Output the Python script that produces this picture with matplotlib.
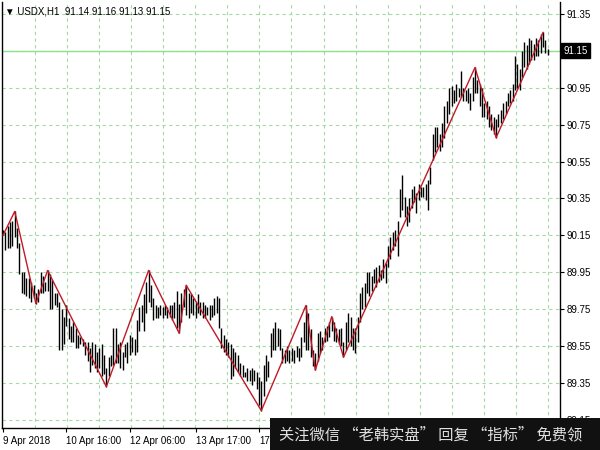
import numpy as np
import matplotlib.pyplot as plt
import matplotlib.transforms as mtransforms
from matplotlib.patches import Rectangle

plt.rcParams['font.family'] = ['Liberation Sans', 'DejaVu Sans']

# USDX H1 bars, high / low (left to right)
highs = [90.18, 90.17, 90.20, 90.22, 90.23, 90.28, 90.19, 90.11, 89.95, 89.95,
         89.92, 89.92, 89.90, 89.88, 89.84, 89.86, 89.95, 89.93, 89.90, 89.96,
         89.94, 89.91, 89.84, 89.84, 89.79, 89.75, 89.71, 89.77, 89.70, 89.66,
         89.68, 89.65, 89.61, 89.60, 89.59, 89.57, 89.57, 89.54, 89.57, 89.56,
         89.52, 89.54, 89.56, 89.50, 89.43, 89.49, 89.50, 89.65, 89.65, 89.56,
         89.57, 89.52, 89.56, 89.57, 89.61, 89.60,
         89.59, 89.69, 89.76, 89.77, 89.83, 89.90, 89.96, 89.88, 89.81, 89.77,
         89.76, 89.77, 89.76, 89.77, 89.76, 89.77, 89.77, 89.79, 89.85, 89.78,
         89.84, 89.86, 89.88, 89.84, 89.83, 89.81, 89.79, 89.83, 89.79, 89.79,
         89.77, 89.76, 89.77, 89.77, 89.81, 89.82, 89.81, 89.65, 89.61, 89.59,
         89.57, 89.56, 89.54, 89.52, 89.50, 89.46, 89.45, 89.41, 89.43, 89.42,
         89.43, 89.42, 89.41, 89.38, 89.36, 89.45, 89.50,
         89.47, 89.62, 89.65, 89.68, 89.65, 89.64, 89.54, 89.53, 89.55, 89.53,
         89.54, 89.53, 89.55, 89.54, 89.60, 89.68, 89.77, 89.73, 89.64, 89.53,
         89.51, 89.62, 89.63, 89.60, 89.65, 89.66, 89.68, 89.71, 89.68, 89.65,
         89.64, 89.65, 89.57, 89.68, 89.73, 89.71, 89.65, 89.65, 89.71, 89.84,
         89.87, 89.89, 89.95, 89.95, 89.93, 89.97, 89.98, 89.99, 89.96, 90.02,
         90.00, 90.09, 90.14, 90.17, 90.18, 90.23, 90.40, 90.48, 90.36, 90.31,
         90.35, 90.40, 90.42,
         90.38, 90.43, 90.41, 90.41, 90.43, 90.45, 90.52, 90.70, 90.74, 90.74,
         90.70, 90.76, 90.85, 90.88, 90.95, 90.96, 90.94, 90.97, 90.95, 91.04,
         90.95, 90.94, 90.95, 90.92, 91.01, 91.06, 90.99, 90.97, 90.95, 90.87,
         90.88, 90.85, 90.81, 90.79, 90.78, 90.81, 90.83, 90.87, 90.88, 90.92,
         90.94, 90.97, 91.12, 91.08, 91.05, 91.15, 91.20, 91.18, 91.22, 91.21,
         91.19, 91.22, 91.21, 91.24, 91.25, 91.21, 91.16]
lows = [90.15, 90.07, 90.08, 90.08, 90.09, 90.14, 90.08, 89.94, 89.84, 89.83,
        89.82, 89.81, 89.79, 89.81, 89.78, 89.79, 89.84, 89.84, 89.85, 89.85,
        89.75, 89.75, 89.77, 89.76, 89.53, 89.53, 89.56, 89.66, 89.59, 89.57,
        89.57, 89.54, 89.54, 89.56, 89.55, 89.50, 89.47, 89.41, 89.45, 89.43,
        89.41, 89.43, 89.39, 89.40, 89.33, 89.39, 89.44, 89.45, 89.46, 89.46,
        89.43, 89.42, 89.49, 89.46, 89.50, 89.52,
        89.50, 89.52, 89.63, 89.68, 89.63, 89.73, 89.79, 89.76, 89.69, 89.70,
        89.70, 89.72, 89.70, 89.72, 89.70, 89.71, 89.69, 89.70, 89.65, 89.62,
        89.68, 89.76, 89.72, 89.70, 89.73, 89.72, 89.70, 89.73, 89.72, 89.70,
        89.70, 89.72, 89.69, 89.71, 89.72, 89.73, 89.65, 89.54, 89.52, 89.50,
        89.49, 89.37, 89.39, 89.43, 89.41, 89.39, 89.38, 89.38, 89.36, 89.36,
        89.34, 89.36, 89.32, 89.23, 89.20, 89.28, 89.36,
        89.38, 89.49, 89.53, 89.53, 89.55, 89.53, 89.46, 89.46, 89.47, 89.46,
        89.47, 89.46, 89.49, 89.47, 89.49, 89.57, 89.53, 89.53, 89.49, 89.44,
        89.42, 89.47, 89.51, 89.53, 89.57, 89.58, 89.60, 89.63, 89.58, 89.57,
        89.56, 89.55, 89.49, 89.53, 89.57, 89.55, 89.53, 89.51, 89.57, 89.68,
        89.75, 89.76, 89.84, 89.82, 89.85, 89.89, 89.87, 89.90, 89.91, 89.92,
        89.89, 89.98, 90.02, 90.07, 90.09, 90.04, 90.25, 90.29, 90.25, 90.20,
        90.22, 90.30, 90.33,
        90.27, 90.34, 90.36, 90.36, 90.34, 90.29, 90.43, 90.56, 90.60, 90.63,
        90.61, 90.63, 90.68, 90.76, 90.81, 90.85, 90.87, 90.88, 90.90, 90.90,
        90.88, 90.88, 90.87, 90.83, 90.88, 90.92, 90.92, 90.85, 90.79, 90.79,
        90.78, 90.74, 90.72, 90.70, 90.68, 90.74, 90.76, 90.78, 90.81, 90.85,
        90.87, 90.88, 90.94, 90.95, 90.94, 91.01, 91.06, 91.05, 91.08, 91.10,
        91.10, 91.12, 91.12, 91.14, 91.17, 91.14, 91.13]

last_ohlc = [91.14, 91.16, 91.13, 91.15]
symbol = 'USDX,H1'

# zigzag turning points (bar index), starting on a low
zz_idx = [0, 5, 14, 19, 44, 62, 75, 78, 110, 129, 133, 140, 145, 201, 210, 230]

y_ticks = [89.15, 89.35, 89.55, 89.75, 89.95, 90.15, 90.35, 90.55, 90.75, 90.95, 91.15, 91.35]
x_tick_idx = [0, 27, 54, 82, 109]
x_tick_lab = ['9 Apr 2018', '10 Apr 16:00', '12 Apr 06:00', '13 Apr 17:00', '17']

banner = '关注微信 “老韩实盘” 回复 “指标” 免费领'

fig = plt.figure(figsize=(6, 4.5), dpi=100)
ax = fig.add_axes([2/600, 22/450, 558/600, 426/450])

grid_c = '#a6d9a6'
for gx in np.arange(1, 18) * 13.65:
    ax.axvline(gx, color=grid_c, lw=0.8, ls=(0, (3, 3)), zorder=0)
for gy in y_ticks:
    ax.axhline(gy, color=grid_c, lw=0.8, ls=(0, (3, 3)), zorder=0)

bid = last_ohlc[3]
ax.axhline(bid, color='#8fe08f', lw=1.0, zorder=1)

x = np.arange(len(highs))
ax.vlines(x, lows, highs, color='black', lw=1.0, zorder=2)

zz_y = [lows[i] if k % 2 == 0 else highs[i] for k, i in enumerate(zz_idx)]
ax.plot(zz_idx, zz_y, color='#c01a26', lw=1.0, zorder=3)

ax.set_xlim(-0.43, 237.2)
ax.set_ylim(89.106, 91.415)

# the bid tag carries the 91.15 label, so that tick keeps only its mark
ax.yaxis.tick_right()
ax.set_yticks(y_ticks)
ax.set_yticklabels(['' if v == bid else '%.2f' % v for v in y_ticks])
ax.tick_params(axis='y', length=3, width=0.8, pad=2, labelsize=7, direction='out')

ax.set_xticks(x_tick_idx)
ax.set_xticklabels(x_tick_lab)
for lab in ax.get_xticklabels():
    lab.set_ha('left')
ax.tick_params(axis='x', length=3, width=0.8, pad=3, labelsize=7, direction='out')

ax.spines['top'].set_visible(False)
for s in ['left', 'bottom', 'right']:
    ax.spines[s].set_linewidth(1.0)
    ax.spines[s].set_color('black')

# current price tag on the right scale
trans = mtransforms.blended_transform_factory(ax.transAxes, ax.transData)
ax.text(1.006, bid, '%.2f' % bid, transform=trans, ha='left', va='center',
        color='white', fontsize=7, zorder=10, clip_on=False,
        bbox=dict(facecolor='black', edgecolor='black', boxstyle='square,pad=0.25'))

# header
head = '▼ ' + symbol + '  ' + ' '.join('%.2f' % v for v in last_ohlc)
fig.text(5/600, 1 - 11/450, head, fontsize=7, va='center', ha='left')

# watermark strip
fig.patches.append(Rectangle((270/600, 0), 330/600, 32/450, transform=fig.transFigure,
                             facecolor='#111111', edgecolor='none', zorder=20))
fig.text(279/600, 1 - 435/450, banner, fontsize=11, color='#e0e0e0', va='center',
         ha='left', family=['Noto Sans CJK SC', 'DejaVu Sans'], zorder=21)

fig.savefig('out.png', dpi=100)
